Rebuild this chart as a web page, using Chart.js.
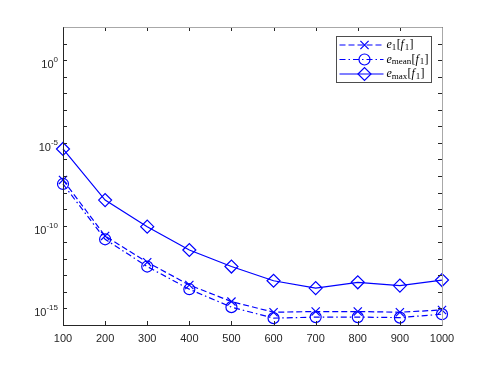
<!DOCTYPE html>
<html>
<head>
<meta charset="utf-8">
<script src="https://cdn.jsdelivr.net/npm/chart.js@4.4.1/dist/chart.umd.min.js"></script>
<style>
  html, body { margin: 0; padding: 0; background: #fff; }
  #wrap { width: 488px; height: 366px; }
</style>
</head>
<body>
<div id="wrap"><canvas id="chart" width="488" height="366"></canvas></div>
<script>
// data
const xLabels = [100, 200, 300, 400, 500, 600, 700, 800, 900, 1000];
const e1Values = [5.8e-8, 2.4e-11, 6.2e-13, 2.6e-14, 2.6e-15, 5.9e-16, 6.5e-16, 6.5e-16, 5.9e-16, 8.1e-16];
const eMeanValues = [3.3e-8, 1.5e-11, 3.4e-13, 1.45e-14, 1.2e-15, 2.6e-16, 3.0e-16, 3.0e-16, 2.8e-16, 4.5e-16];
const eMaxValues = [4.3e-6, 3.5e-9, 8.7e-11, 3.4e-12, 3.4e-13, 4.7e-14, 1.7e-14, 3.8e-14, 2.4e-14, 5.2e-14];
const yMinExp = -16, yMaxExp = 2;
const yLabelExps = [0, -5, -10, -15];
const legendSubs = ['1', 'mean', 'max'];

const BLUE = '#0000ff';
const AXIS = '#262626';
const MATH_FONT = '"Liberation Serif", "DejaVu Serif", serif';

const decades = [];
for (let e = yMinExp; e <= yMaxExp; e++) decades.push(e);

function drawMath(ctx, x, y, sub) {
    const parts = [
        { t: 'e', f: 'italic 12px ' + MATH_FONT },
        { t: sub, f: '9px ' + MATH_FONT, dy: 2.5 },
        { t: '[', f: '12px ' + MATH_FONT, dx: 0.3 },
        { t: 'f', f: 'italic 12px ' + MATH_FONT },
        { t: '1', f: '9px ' + MATH_FONT, dy: 2.5, dx: 0.8 },
        { t: ']', f: '12px ' + MATH_FONT, dx: 0.3 }
    ];
    parts.forEach(p => {
        ctx.font = p.f;
        x += p.dx || 0;
        ctx.fillText(p.t, x, y + (p.dy || 0));
        x += ctx.measureText(p.t).width;
    });
}

const framePlugin = {
    id: 'frame',
    afterDraw(chart) {
        const { ctx, chartArea: a, scales: { x, y } } = chart;
        ctx.save();
        ctx.lineWidth = 1;
        ctx.strokeStyle = AXIS;

        // tick marks, pointing inwards on all four sides
        ctx.beginPath();
        decades.forEach(e => {
            const py = Math.round(y.getPixelForValue(Math.pow(10, e))) + 0.5;
            ctx.moveTo(a.left, py); ctx.lineTo(a.left + 4, py);
            ctx.moveTo(a.right, py); ctx.lineTo(a.right - 4, py);
        });
        xLabels.forEach((v, i) => {
            const px = Math.round(x.getPixelForValue(i)) + 0.5;
            ctx.moveTo(px, a.bottom); ctx.lineTo(px, a.bottom - 4);
            ctx.moveTo(px, a.top); ctx.lineTo(px, a.top + 4);
        });
        ctx.stroke();

        // box
        const L = Math.round(a.left) + 0.5, R = Math.round(a.right) + 0.5;
        const T = Math.round(a.top) + 0.5, B = Math.round(a.bottom) + 0.5;
        ctx.strokeStyle = '#a8a8a8';
        ctx.beginPath();
        ctx.moveTo(L, T); ctx.lineTo(R, T); ctx.lineTo(R, B);
        ctx.stroke();
        ctx.strokeStyle = AXIS;
        ctx.beginPath();
        ctx.moveTo(L, T); ctx.lineTo(L, B); ctx.lineTo(R, B);
        ctx.stroke();

        // y labels 10^k
        ctx.fillStyle = AXIS;
        ctx.textBaseline = 'alphabetic';
        ctx.textAlign = 'left';
        yLabelExps.forEach(e => {
            const py = y.getPixelForValue(Math.pow(10, e));
            const exp = String(e);
            ctx.font = '8px "Liberation Sans", Arial, sans-serif';
            const ew = ctx.measureText(exp).width;
            ctx.font = '11px "Liberation Sans", Arial, sans-serif';
            const bw = ctx.measureText('10').width;
            const right = a.left - 5;
            ctx.fillText('10', right - ew - bw, py + 8);
            ctx.font = '8px "Liberation Sans", Arial, sans-serif';
            ctx.fillText(exp, right - ew, py + 2);
        });

        // legend
        const bx = Math.round(a.right) - 105.5, by = Math.round(a.top) + 9.5;
        const bw = 95, bh = 46;
        ctx.fillStyle = '#fff';
        ctx.fillRect(bx, by, bw, bh);
        ctx.strokeStyle = '#4d4d4d';
        ctx.strokeRect(bx, by, bw, bh);
        chart.data.datasets.forEach((ds, i) => {
            const ly = by + 8.5 + i * 14.5;
            ctx.strokeStyle = BLUE;
            ctx.lineWidth = 1.2;
            ctx.setLineDash(ds.borderDash || []);
            ctx.beginPath();
            ctx.moveTo(bx + 3, ly); ctx.lineTo(bx + 47, ly);
            ctx.stroke();
            ctx.setLineDash([]);
            ctx.fillStyle = 'rgba(0,0,0,0)';
            Chart.helpers.drawPoint(ctx, {
                pointStyle: ds.pointStyle, radius: ds.pointRadius, rotation: 0, borderWidth: 1.2
            }, bx + 28, ly);
            ctx.fillStyle = '#000';
            ctx.textBaseline = 'middle';
            drawMath(ctx, bx + 50, ly, legendSubs[i]);
        });
        ctx.restore();
    }
};

function series(values, style, radius, dash) {
    return {
        data: values,
        borderColor: BLUE,
        borderWidth: 1.2,
        borderDash: dash,
        pointStyle: style,
        pointRadius: radius,
        pointBorderColor: BLUE,
        pointBackgroundColor: 'rgba(0,0,0,0)',
        pointBorderWidth: 1.2,
        tension: 0,
        fill: false
    };
}

new Chart(document.getElementById('chart'), {
    type: 'line',
    data: {
        labels: xLabels.map(String),
        datasets: [
            series(e1Values, 'crossRot', 5.8, [6, 3]),
            series(eMeanValues, 'circle', 5.5, [6, 3, 1.5, 3]),
            series(eMaxValues, 'rectRot', 6.5, [])
        ]
    },
    options: {
        responsive: false,
        animation: false,
        layout: { padding: { top: 27, right: 46, left: 0, bottom: 0 } },
        plugins: { legend: { display: false }, tooltip: { enabled: false } },
        scales: {
            x: {
                type: 'category',
                offset: false,
                grid: { display: false, drawTicks: false, offset: false },
                border: { display: false },
                ticks: {
                    color: AXIS,
                    font: { family: '"Liberation Sans", Arial, sans-serif', size: 11 },
                    padding: 7,
                    maxRotation: 0,
                    autoSkip: false
                },
                afterFit: s => { s.height = 41; }
            },
            y: {
                type: 'logarithmic',
                min: Math.pow(10, yMinExp),
                max: Math.pow(10, yMaxExp),
                grid: { display: false, drawTicks: false },
                border: { display: false },
                ticks: { callback: () => '' },
                afterBuildTicks: s => { s.ticks = decades.map(e => ({ value: Math.pow(10, e) })); },
                afterFit: s => { s.width = 63; }
            }
        }
    },
    plugins: [framePlugin]
});
</script>
</body>
</html>
